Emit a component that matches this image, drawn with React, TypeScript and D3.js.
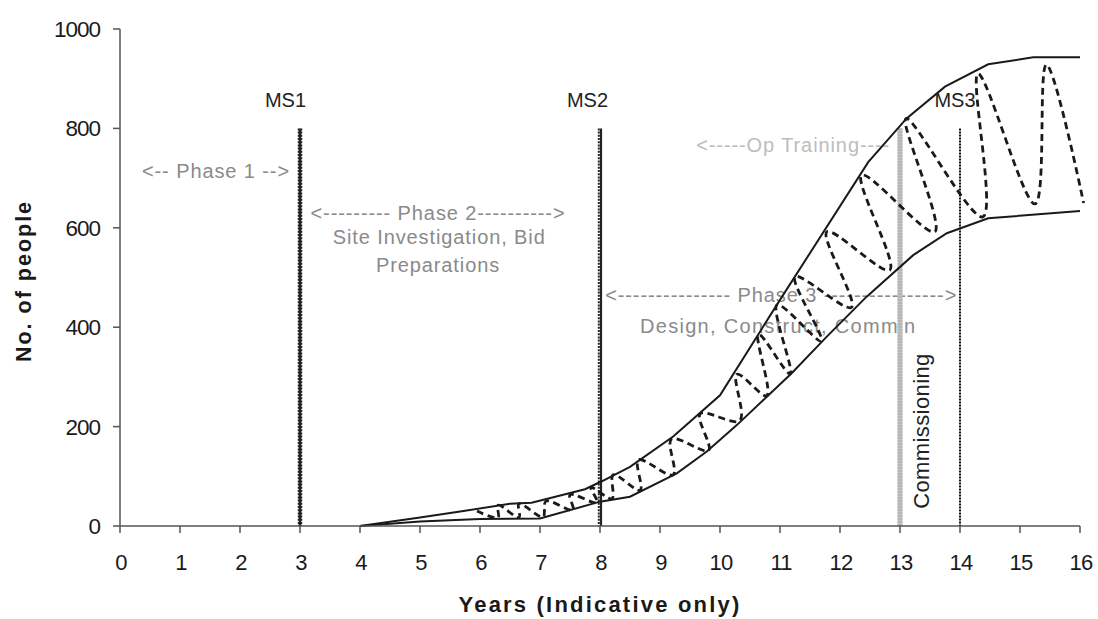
import React from "react";
import * as d3 from "d3";

// ---- data ----
const upperYears = [4, 5, 5.67, 6.5, 6.86, 7.75, 8.03, 8.5, 9.22, 10, 11, 12.47, 13.11, 13.75, 14.47, 15.22, 16];
const upperPeople = [0, 17, 29, 45, 47, 74, 90, 119, 180, 263, 455, 732, 820, 884, 929, 943, 943];

const lowerYears = [4, 5, 6, 7, 8, 8.5, 9.28, 9.78, 10.28, 10.78, 11.19, 11.78, 12.44, 13.22, 13.78, 14.47, 16];
const lowerPeople = [0, 9, 14, 15, 49, 59, 106, 150, 203, 260, 307, 381, 461, 545, 589, 619, 634];

// staffing oscillation (smoothed dashed line), in drawing order
const waveYears = [5.95, 6.3, 6.3, 6.65, 6.65, 7.05, 7.1, 7.55, 7.5, 7.95, 7.85, 8.2, 8.22, 8.67, 8.64, 9.22, 9.19, 9.81, 9.67, 10.33, 10.28, 10.78, 10.64, 11.17, 10.95, 11.69, 11.25, 12.19, 11.78, 12.83, 12.36, 13.58, 13.1, 14.38, 14.3, 15.25, 15.44, 16.06];
const wavePeople = [30, 17, 42, 17, 45, 18, 50, 32, 63, 47, 78, 55, 103, 72, 133, 103, 175, 152, 226, 212, 305, 262, 386, 306, 445, 372, 502, 440, 592, 515, 706, 592, 820, 622, 910, 648, 928, 650];

const xTicks = d3.range(0, 17);
const yTicks = [0, 200, 400, 600, 800, 1000];

const milestones = [
  { year: 3, label: "MS1", shift: -14.5 },
  { year: 8, label: "MS2", shift: -12.5 },
  { year: 14, label: "MS3", shift: -5 },
];
const commissioningYear = 13;
const milestoneTop = 800;

const phaseLabels = [
  { year: 1.6, value: 700, text: "<-- Phase 1 -->", color: "#8a8a8a", ls: 0.9 },
  { year: 5.3, value: 616, text: "<--------- Phase 2---------->", color: "#8a8a8a", ls: 0.9 },
  { year: 5.32, value: 568, text: "Site Investigation, Bid", color: "#8a8a8a", ls: 0.9 },
  { year: 5.3, value: 512, text: "Preparations", color: "#8a8a8a", ls: 0.9 },
  { year: 11.22, value: 752, text: "<-----Op Training----", color: "#bdbdbd", ls: 0.9 },
  { year: 13.0, value: 450, text: "", color: "#8a8a8a", ls: 0.9 },
  { year: 13.0, value: 450, text: "", color: "#8a8a8a", ls: 0.9 },
  { year: 11.02, value: 450, text: "<--------------- Phase 3 ---------------->", color: "#8a8a8a", ls: 0.9 },
  { year: 10.97, value: 388, text: "Design, Construct, Comm'n", color: "#8a8a8a", ls: 1.3 },
];

const W = 1098;
const H = 619;

export default function App() {
  const x = d3.scaleLinear().domain([0, 16]).range([120, 1080]);
  const y = d3.scaleLinear().domain([0, 1000]).range([526, 29]);

  const lineGen = d3
    .line<[number, number]>()
    .x((d) => x(d[0]))
    .y((d) => y(d[1]));

  const upper = lineGen(upperYears.map((v, i) => [v, upperPeople[i]] as [number, number])) || "";
  const lower = lineGen(lowerYears.map((v, i) => [v, lowerPeople[i]] as [number, number])) || "";
  const wave =
    d3
      .line<[number, number]>()
      .x((d) => x(d[0]))
      .y((d) => y(d[1]))
      .curve(d3.curveCatmullRom.alpha(0.5))(waveYears.map((v, i) => [v, wavePeople[i]] as [number, number])) || "";

  const font = "Arial, 'Liberation Sans', Helvetica, sans-serif";
  const axisColor = "#555";

  return (
    <div style={{ position: "fixed", left: 0, top: 0, width: W, height: H, background: "#fff" }}>
      <svg width={W} height={H} style={{ display: "block" }} fontFamily={font}>
        <rect x={0} y={0} width={W} height={H} fill="#fff" />

        {/* phase labels */}
        {phaseLabels
          .filter((p) => p.text)
          .map((p, i) => (
            <text
              key={i}
              x={x(p.year)}
              y={y(p.value)}
              textAnchor="middle"
              fontSize={20}
              fill={p.color}
              letterSpacing={p.ls}
            >
              {p.text}
            </text>
          ))}

        {/* commissioning bar */}
        <line
          x1={x(commissioningYear)}
          x2={x(commissioningYear)}
          y1={y(milestoneTop)}
          y2={y(0)}
          stroke="#c4c4c4"
          strokeWidth={5}
        />
        <line
          x1={x(commissioningYear)}
          x2={x(commissioningYear)}
          y1={y(milestoneTop)}
          y2={y(0)}
          stroke="#a8a8a8"
          strokeWidth={5}
          strokeDasharray="1,2"
        />
        <text
          transform={`translate(${x(commissioningYear) + 29},${y(191)}) rotate(-90)`}
          textAnchor="middle"
          fontSize={22}
          fill="#222"
          letterSpacing={0.4}
        >
          Commissioning
        </text>

        {/* milestone lines */}
        <line x1={x(3)} x2={x(3)} y1={y(milestoneTop)} y2={y(0)} stroke="#222" strokeWidth={2.5} />
        <line x1={x(3) - 1.5} x2={x(3) - 1.5} y1={y(milestoneTop)} y2={y(0)} stroke="#222" strokeWidth={1.5} strokeDasharray="2,1.2" />
        <line x1={x(3) + 1.5} x2={x(3) + 1.5} y1={y(milestoneTop)} y2={y(0)} stroke="#222" strokeWidth={1.5} strokeDasharray="2,1.2" />
        <line x1={x(8) + 1} x2={x(8) + 1} y1={y(milestoneTop)} y2={y(0)} stroke="#222" strokeWidth={2.2} />
        <line x1={x(8) - 1.2} x2={x(8) - 1.2} y1={y(milestoneTop)} y2={y(0)} stroke="#222" strokeWidth={2} strokeDasharray="2,1.2" />
        <line x1={x(14)} x2={x(14)} y1={y(milestoneTop)} y2={y(0)} stroke="#111" strokeWidth={2} strokeDasharray="2,1" />

        {/* envelope lines */}
        <path d={upper} fill="none" stroke="#1a1a1a" strokeWidth={2} />
        <path d={lower} fill="none" stroke="#1a1a1a" strokeWidth={2} />

        {/* wave */}
        <path d={wave} fill="none" stroke="#1a1a1a" strokeWidth={2.8} strokeDasharray="7,4.5" />

        {/* milestone labels */}
        {milestones.map((m) => (
          <text key={m.label} x={x(m.year) + m.shift} y={107} textAnchor="middle" fontSize={20} fill="#222">
            {m.label}
          </text>
        ))}

        {/* axes */}
        <line x1={x(0)} x2={x(0)} y1={y(1000)} y2={y(0)} stroke={axisColor} strokeWidth={1.5} />
        <line x1={x(0)} x2={x(16)} y1={y(0)} y2={y(0)} stroke={axisColor} strokeWidth={1.5} />
        {yTicks.map((t) => (
          <g key={"y" + t}>
            <line x1={x(0) - 7} x2={x(0)} y1={y(t)} y2={y(t)} stroke={axisColor} strokeWidth={1.5} />
            <text x={x(0) - 20} y={y(t) + 8} textAnchor="end" fontSize={22.5} fill="#1a1a1a" letterSpacing={-1}>
              {t}
            </text>
          </g>
        ))}
        {xTicks.map((t) => (
          <g key={"x" + t}>
            <line x1={x(t)} x2={x(t)} y1={y(0)} y2={y(0) + 7} stroke={axisColor} strokeWidth={1.5} />
            <text x={x(t) + 1} y={570} textAnchor="middle" fontSize={22} fill="#1a1a1a" letterSpacing={-0.8}>
              {t}
            </text>
          </g>
        ))}

        {/* axis titles */}
        <text x={600} y={612} textAnchor="middle" fontSize={22} fontWeight="bold" fill="#1a1a1a" letterSpacing={2.2}>
          Years (Indicative only)
        </text>
        <text
          transform={`translate(31,${281}) rotate(-90)`}
          textAnchor="middle"
          fontSize={21.5}
          fontWeight="bold"
          fill="#1a1a1a"
          letterSpacing={2}
        >
          No. of people
        </text>
      </svg>
    </div>
  );
}
